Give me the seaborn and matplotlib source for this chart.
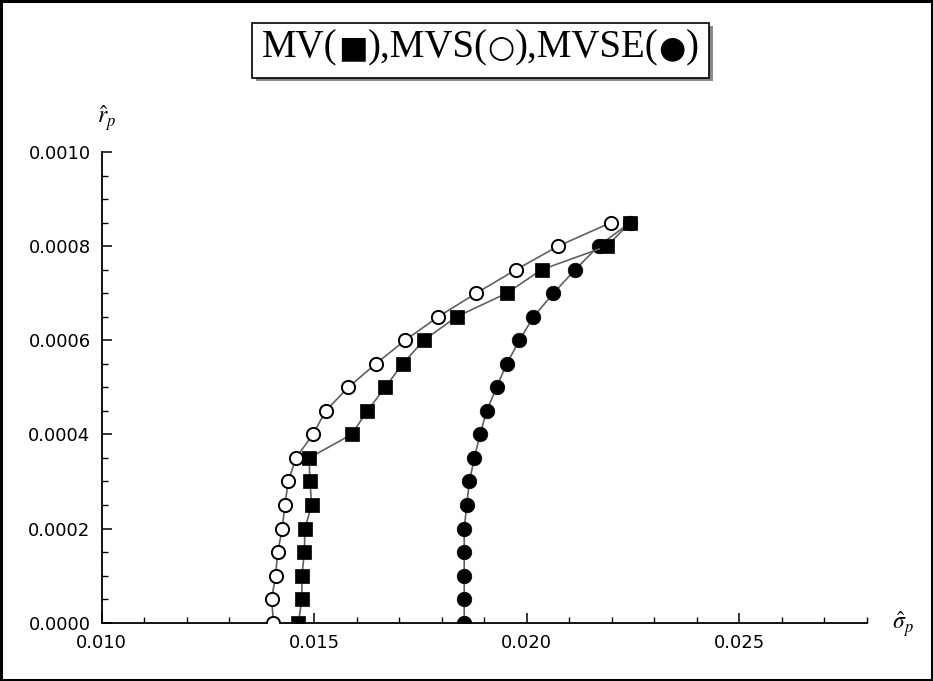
import matplotlib
matplotlib.use("Agg")
import matplotlib.pyplot as plt
import matplotlib.patches as mpatches
from matplotlib.ticker import MultipleLocator, FormatStrFormatter
from matplotlib.offsetbox import TextArea, HPacker, AnchoredOffsetbox
import seaborn as sns
import pandas as pd

# ---- data ----
r_levels = [0.0, 0.00005, 0.0001, 0.00015, 0.0002, 0.00025, 0.0003, 0.00035, 0.0004,
            0.00045, 0.0005, 0.00055, 0.0006, 0.00065, 0.0007, 0.00075, 0.0008, 0.00085]

sigma_mv = [0.01463, 0.01471, 0.01471, 0.01477, 0.01478, 0.01494, 0.01490, 0.01488, 0.01588,
            0.01625, 0.01667, 0.01708, 0.01758, 0.01835, 0.01953, 0.02035, 0.02189, 0.02243]
sigma_mvs = [0.01404, 0.01400, 0.01409, 0.01414, 0.01425, 0.01431, 0.01439, 0.01457, 0.01497,
             0.01527, 0.01580, 0.01645, 0.01714, 0.01792, 0.01881, 0.01975, 0.02074, 0.02198]
sigma_mvse = [0.01853, 0.01853, 0.01853, 0.01853, 0.01853, 0.01859, 0.01865, 0.01877, 0.01890,
              0.01906, 0.01929, 0.01953, 0.01983, 0.02016, 0.02063, 0.02114, 0.02169, 0.02243]

title_parts = ["MV(", "\u25A0", "),MVS(", "\u25CB", "),MVSE(", "\u25CF", ")"]
x_ticks = [0.010, 0.015, 0.020, 0.025]
y_ticks = [0.0000, 0.0002, 0.0004, 0.0006, 0.0008, 0.0010]

sns.set_theme(style="white")
plt.rcParams['font.family'] = ['DejaVu Sans']
plt.rcParams['mathtext.fontset'] = 'stix'
plt.rcParams['text.color'] = 'black'

W, H = 933, 681
fig = plt.figure(figsize=(W / 100, H / 100), dpi=100)
fig.patch.set_facecolor("white")

x0, x1 = 101.7, 101.7 + 18 * 42.5
y0, y1 = 622.7, 152.0
ax = fig.add_axes([x0 / W, 1 - y0 / H, (x1 - x0) / W, (y0 - y1) / H])
ax.set_facecolor("white")

line_kw = dict(color="#606060", linewidth=1.2, sort=False, estimator=None)

df_mvs = pd.DataFrame({"sigma": sigma_mvs, "r": r_levels})
df_mvse = pd.DataFrame({"sigma": sigma_mvse, "r": r_levels})
df_mv = pd.DataFrame({"sigma": sigma_mv, "r": r_levels})

sns.lineplot(data=df_mvs, x="sigma", y="r", ax=ax, marker="o", markersize=9.5,
             markerfacecolor="white", markeredgecolor="black", markeredgewidth=1.4,
             zorder=3, **line_kw)
sns.lineplot(data=df_mvse, x="sigma", y="r", ax=ax, marker="o", markersize=10.5,
             markerfacecolor="black", markeredgecolor="black", markeredgewidth=0.5,
             zorder=4, **line_kw)
sns.lineplot(data=df_mv, x="sigma", y="r", ax=ax, marker="s", markersize=9.5,
             markerfacecolor="black", markeredgecolor="black", markeredgewidth=0.5,
             zorder=5, **line_kw)

ax.set_xlim(0.010, 0.028)
ax.set_ylim(0.0, 0.0010)
ax.set_xlabel("")
ax.set_ylabel("")
for s in ["top", "right"]:
    ax.spines[s].set_visible(False)
for s in ["left", "bottom"]:
    ax.spines[s].set_visible(True)
    ax.spines[s].set_color("black")
    ax.spines[s].set_linewidth(1.3)
ax.set_xticks(x_ticks)
ax.set_yticks(y_ticks)
ax.xaxis.set_major_formatter(FormatStrFormatter("%.3f"))
ax.yaxis.set_major_formatter(FormatStrFormatter("%.4f"))
ax.xaxis.set_minor_locator(MultipleLocator(0.001))
ax.yaxis.set_minor_locator(MultipleLocator(0.00005))
ax.tick_params(which="major", direction="in", length=7, width=1.1, color="black",
               labelsize=13, labelcolor="black", pad=8,
               bottom=True, left=True, top=False, right=False)
ax.tick_params(which="minor", direction="in", length=4, width=1.0, color="black",
               bottom=True, left=True, top=False, right=False)
ax.grid(False)

# axis labels placed like Mathematica's AxesLabel
fig.text(107 / W, 1 - 118 / H, r"$\hat{r}_p$", fontsize=17, ha="center", va="center",
         color="black")
fig.text(903 / W, 1 - 624 / H, r"$\hat{\sigma}_p$", fontsize=17, ha="center", va="center",
         color="black")

# title box with shadow
bl, br, bt, bb = 251.7, 709.0, 22.7, 78.0
shadow = mpatches.Rectangle(((bl + 4) / W, 1 - (bb + 3) / H), (br - bl) / W, (bb - bt) / H,
                            transform=fig.transFigure, facecolor="#888888",
                            edgecolor="none", zorder=1)
box = mpatches.Rectangle((bl / W, 1 - bb / H), (br - bl) / W, (bb - bt) / H,
                         transform=fig.transFigure, facecolor="white",
                         edgecolor="black", linewidth=1.2, zorder=2)
fig.patches.extend([shadow, box])

areas = []
for i, part in enumerate(title_parts):
    if i % 2 == 1:
        props = dict(fontsize=22.5, family="DejaVu Sans", color="black")
    else:
        props = dict(fontsize=28, family="Liberation Serif", color="black")
    areas.append(TextArea(part, textprops=props))
packer = HPacker(children=areas, align="baseline", pad=0, sep=0)
anch = AnchoredOffsetbox(loc="center", child=packer, frameon=False, pad=0, borderpad=0,
                         bbox_to_anchor=((bl + br) / 2 / W, 1 - (bt + bb) / 2 / H + 0.004),
                         bbox_transform=fig.transFigure)
anch.set_zorder(3)
fig.add_artist(anch)

# outer frame
frame = mpatches.Rectangle((0.0015, 0.002), 0.997, 0.996, transform=fig.transFigure,
                           facecolor="none", edgecolor="black", linewidth=2.2, zorder=10)
fig.patches.append(frame)

fig.savefig("out.png", dpi=100, facecolor="white")
